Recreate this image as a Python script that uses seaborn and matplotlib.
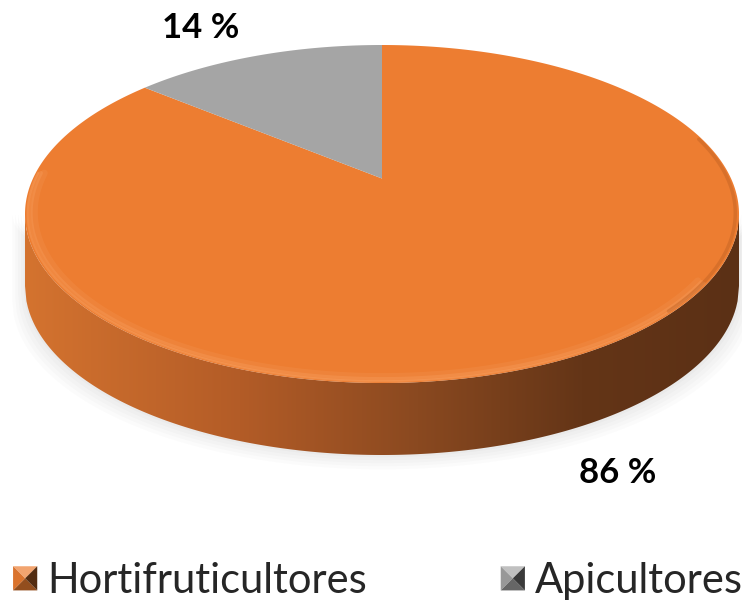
import numpy as np
import pandas as pd
import matplotlib
matplotlib.use("Agg")
import matplotlib.pyplot as plt
import seaborn as sns
from matplotlib.patches import Polygon
from matplotlib.legend_handler import HandlerBase
from matplotlib.colors import LinearSegmentedColormap, to_rgb

# datos
grupos = ["Hortifruticultores", "Apicultores"]
porcentajes = [86, 14]
colores = ["#ED7D31", "#A5A5A5"]

sns.set_theme(style="white")
plt.rcParams["font.family"] = ["Lato", "DejaVu Sans"]

W, H = 742, 603
cx, cy, rx, ry = 382, 214, 357, 169   # elipse de la cara superior (px)
grosor = 72 / ry                       # alto del lateral
persp = 0.21                           # el centro se ve mas arriba

fig = plt.figure(figsize=(W / 100, H / 100), dpi=100)
ax = fig.add_axes([0, 0, 1, 1])

wedges, _ = ax.pie(porcentajes, colors=colores, startangle=90, counterclock=False,
                   radius=1, center=(0, 0), wedgeprops=dict(linewidth=0))
ax.set_aspect("auto")
ax.axis("off")


def proyectar(u, v):
    k = np.sqrt(1 - persp ** 2)
    d = 1 + persp * v
    return u * k / d, (v + persp) / d


# cara superior en perspectiva
caras = []
for w, lab in zip(wedges, grupos):
    th = np.radians(np.linspace(w.theta1, w.theta2, 300))
    u = np.concatenate([[0], np.cos(th)])
    v = np.concatenate([[0], np.sin(th)])
    px, py = proyectar(u, v)
    p = Polygon(np.column_stack([px, py]), closed=True, facecolor=w.get_facecolor(),
                edgecolor="none", zorder=4, label=lab)
    ax.add_patch(p)
    caras.append(p)
    w.remove()

# lateral con degradado
xs = np.linspace(-1, 1, 500)
y_sup = -np.sqrt(np.clip(1 - xs ** 2, 0, None))
y_inf = y_sup - grosor

# sombra suave
for i, a in enumerate([0.035, 0.035, 0.03, 0.03, 0.025]):
    e = 1.005 + i * 0.008
    ax.fill_between(xs * e, y_inf - 0.01 - i * 0.018, y_sup * 0.5, color="#7f7f7f",
                    alpha=a, linewidth=0, zorder=1)

lateral = ax.fill_between(xs, y_inf, y_sup, color="none", linewidth=0, zorder=2)
cmap = LinearSegmentedColormap.from_list(
    "lado", [(0, "#d4732f"), (0.3, "#b35c27"), (0.55, "#8a4920"), (0.78, "#643517"), (1, "#5b3015")])
grad = np.linspace(0, 1, 256).reshape(1, -1)
im = ax.imshow(grad, cmap=cmap, extent=(-1, 1, -1 - grosor, 0.05), aspect="auto",
               zorder=3, interpolation="bilinear")
im.set_clip_path(lateral.get_paths()[0], ax.transData)
ax.set_xlim(-cx / rx, (W - cx) / rx)
ax.set_ylim((cy - H) / ry, cy / ry)

# borde biselado (suave)
th = np.radians(np.linspace(178, 325, 200))
for r, lw, a in [(0.975, 5, 0.18), (0.985, 3, 0.3), (0.993, 1.5, 0.45)]:
    bx, by = proyectar(r * np.cos(th), r * np.sin(th))
    ax.plot(bx, by, color="#f8a263", lw=lw, alpha=a, zorder=5, solid_capstyle="round")
th = np.radians(np.linspace(315, 375, 120))
bx, by = proyectar(0.99 * np.cos(th), 0.99 * np.sin(th))
ax.plot(bx, by, color="#a9531d", lw=2.5, alpha=0.3, zorder=5)

# etiquetas
ax.text((201 - cx) / rx, (cy - 28) / ry, f"{porcentajes[1]} %", ha="center", va="center",
        fontsize=25, fontweight="bold", color="black")
ax.text((618 - cx) / rx, (cy - 473) / ry, f"{porcentajes[0]} %", ha="center", va="center",
        fontsize=25, fontweight="bold", color="black")


class Piramide(HandlerBase):
    def create_artists(self, legend, orig_handle, xdescent, ydescent, width, height,
                       fontsize, trans):
        s = min(width, height)
        x0 = -xdescent + (width - s) / 2
        y0 = -ydescent + (height - s) / 2
        c = np.array(to_rgb(orig_handle.get_facecolor()))
        claro = c + (1 - c) * 0.3
        tl, tr = (x0, y0 + s), (x0 + s, y0 + s)
        bl, br = (x0, y0), (x0 + s, y0)
        m = (x0 + s / 2, y0 + s / 2)
        tris = [([tl, tr, m], claro), ([tl, bl, m], c * 0.92),
                ([bl, br, m], c * 0.62), ([tr, br, m], c * 0.35)]
        return [Polygon(pts, closed=True, facecolor=col, edgecolor="none", transform=trans)
                for pts, col in tris]


ax.legend(handles=caras, labels=grupos, handler_map={Polygon: Piramide()},
          loc="lower left", bbox_to_anchor=(0.012, -0.002), ncol=2, frameon=False,
          fontsize=30, handlelength=0.58, handleheight=0.58, handletextpad=0.25,
          columnspacing=3.2, borderpad=0.1, borderaxespad=0)

fig.savefig("out.png", dpi=100)
